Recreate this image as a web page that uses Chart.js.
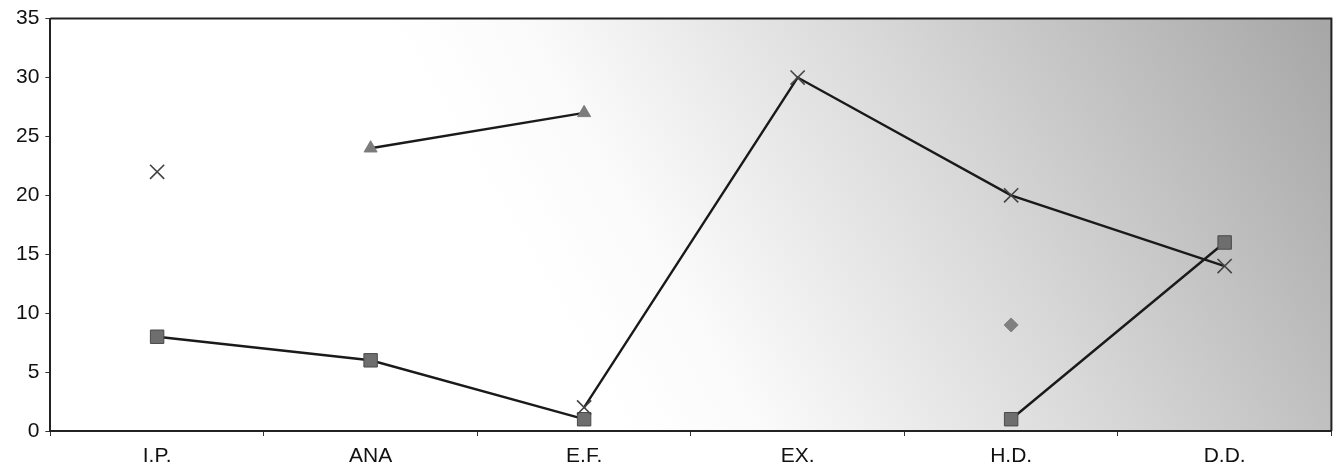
<!DOCTYPE html>
<html>
<head>
<meta charset="utf-8">
<script src="https://cdn.jsdelivr.net/npm/chart.js@4/dist/chart.umd.min.js"></script>
<style>
html,body{margin:0;padding:0;background:#fff;}
#wrap{width:1343px;height:468px;}
</style>
</head>
<body>
<div id="wrap"><canvas id="c" width="1343" height="468"></canvas></div>
<script>
const categories = ['I.P.', 'ANA', 'E.F.', 'EX.', 'H.D.', 'D.D.'];
const squareSeries = [8, 6, 1, null, 1, 16];
const crossSeries = [22, null, 2, 30, 20, 14];
const triangleSeries = [null, 24, 27, null, null, null];
const diamondSeries = [null, null, null, null, 9, null];
const yTicks = [0, 5, 10, 15, 20, 25, 30, 35];

const bgPlugin = {
  id: 'bg',
  beforeDraw(chart) {
    const {ctx, chartArea: a} = chart;
    const g = ctx.createLinearGradient(a.left + a.width * 0.45, a.bottom, a.right, a.top);
    g.addColorStop(0, '#ffffff');
    g.addColorStop(0.15, '#fafafa');
    g.addColorStop(0.5, '#d9d9d9');
    g.addColorStop(1, '#a6a6a6');
    ctx.save();
    ctx.fillStyle = g;
    ctx.fillRect(a.left, a.top, a.width, a.height);
    ctx.restore();
  },
  afterDatasetsDraw(chart) {
    const {ctx, chartArea: a} = chart;
    ctx.save();
    ctx.strokeStyle = '#222';
    ctx.lineWidth = 2;
    ctx.beginPath();
    ctx.moveTo(a.left, a.top);
    ctx.lineTo(a.right, a.top);
    ctx.lineTo(a.right, a.bottom);
    ctx.stroke();
    ctx.restore();
  }
};

new Chart(document.getElementById('c'), {
  type: 'line',
  data: {
    labels: categories,
    datasets: [
      {
        data: crossSeries,
        borderColor: '#1a1a1a',
        borderWidth: 2.4,
        pointStyle: 'crossRot',
        pointRadius: 10,
        pointBorderColor: '#444',
        pointBorderWidth: 1.6,
        spanGaps: false,
        tension: 0
      },
      {
        data: squareSeries,
        borderColor: '#1a1a1a',
        borderWidth: 2.4,
        pointStyle: 'rect',
        pointRadius: 9.5,
        pointBackgroundColor: '#6e6e6e',
        pointBorderColor: '#4a4a4a',
        pointBorderWidth: 1,
        spanGaps: false,
        tension: 0
      },
      {
        data: triangleSeries,
        borderColor: '#1a1a1a',
        borderWidth: 2.4,
        pointStyle: 'triangle',
        pointRadius: 7.5,
        pointBackgroundColor: '#7c7c7c',
        pointBorderColor: '#7c7c7c',
        pointBorderWidth: 1,
        spanGaps: false,
        tension: 0
      },
      {
        data: diamondSeries,
        borderColor: '#1a1a1a',
        borderWidth: 2.4,
        pointStyle: 'rectRot',
        pointRadius: 7,
        pointBackgroundColor: '#808080',
        pointBorderColor: '#808080',
        pointBorderWidth: 1,
        spanGaps: false,
        tension: 0
      }
    ]
  },
  options: {
    responsive: false,
    animation: false,
    layout: {padding: {top: 6, right: 7, left: 10, bottom: -9}},
    plugins: {legend: {display: false}, tooltip: {enabled: false}},
    scales: {
      x: {
        offset: true,
        grid: {offset: true, drawOnChartArea: false, drawTicks: true, tickLength: 5, color: '#333'},
        border: {color: '#222', width: 2},
        ticks: {color: '#111', font: {family: 'Liberation Sans', size: 21, lineHeight: 1.0}, padding: 10}
      },
      y: {
        min: 0,
        max: 35,
        afterBuildTicks(scale) { scale.ticks = yTicks.map(v => ({value: v})); },
        grid: {drawOnChartArea: false, drawTicks: true, tickLength: 5, color: '#333'},
        border: {color: '#222', width: 2},
        ticks: {color: '#111', font: {family: 'Liberation Sans', size: 21}, padding: 6}
      }
    }
  },
  plugins: [bgPlugin]
});
</script>
</body>
</html>
